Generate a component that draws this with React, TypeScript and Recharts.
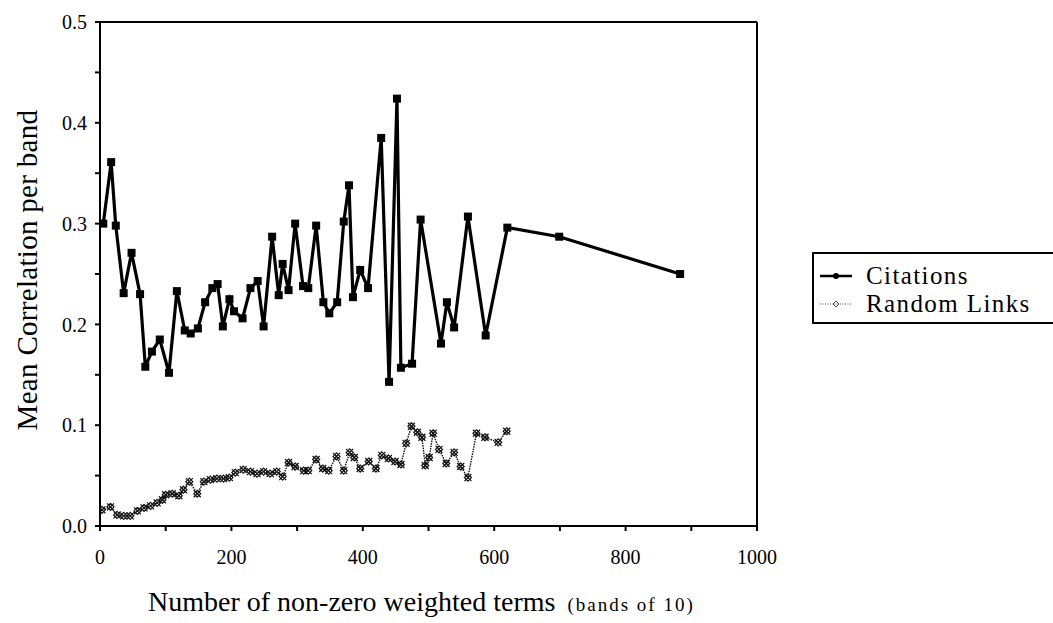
import { LineChart, Line, XAxis, YAxis, ReferenceLine, Legend } from "recharts"

// mean number of non-zero weighted terms in each band, and the band's mean correlation
const citationTerms = [
  5, 17, 24, 36, 48, 61, 69, 79, 91, 105, 117, 129, 138, 149, 160, 171, 179, 187, 197, 204,
  217, 229, 240, 249, 262, 272, 278, 287, 297, 309, 317, 329, 340, 349, 361, 371, 379, 385,
  396, 408, 428, 440, 452, 458, 475, 488, 519, 528, 539, 560, 587, 620, 699, 883,
]
const citationCorr = [
  0.3, 0.361, 0.298, 0.231, 0.271, 0.23, 0.158, 0.173, 0.185, 0.152, 0.233, 0.194, 0.191,
  0.196, 0.222, 0.236, 0.24, 0.198, 0.225, 0.213, 0.206, 0.236, 0.243, 0.198, 0.287, 0.229,
  0.26, 0.234, 0.3, 0.238, 0.236, 0.298, 0.222, 0.211, 0.222, 0.302, 0.338, 0.227, 0.254,
  0.236, 0.385, 0.143, 0.424, 0.157, 0.161, 0.304, 0.181, 0.222, 0.197, 0.307, 0.189, 0.296,
  0.287, 0.25,
]

const randomTerms = [
  3, 16, 26, 36, 46, 57, 67, 77, 87, 95, 100, 110, 120, 127, 136, 148, 158, 168, 178, 188,
  197, 206, 218, 229, 239, 249, 259, 269, 278, 287, 297, 310, 317, 329, 339, 348, 360, 371,
  380, 387, 396, 409, 420, 429, 439, 449, 458, 466, 474, 483, 490, 495, 501, 507, 516, 527,
  539, 549, 560, 573, 586, 606, 619,
]
const randomCorr = [
  0.016, 0.019, 0.011, 0.01, 0.01, 0.015, 0.018, 0.02, 0.023, 0.026, 0.031, 0.032, 0.03,
  0.036, 0.044, 0.032, 0.044, 0.046, 0.047, 0.047, 0.048, 0.053, 0.056, 0.054, 0.052, 0.054,
  0.052, 0.054, 0.049, 0.063, 0.059, 0.055, 0.055, 0.066, 0.057, 0.055, 0.069, 0.055, 0.073,
  0.068, 0.057, 0.064, 0.057, 0.07, 0.067, 0.064, 0.061, 0.082, 0.099, 0.093, 0.088, 0.06,
  0.068, 0.092, 0.076, 0.062, 0.073, 0.059, 0.048, 0.092, 0.088, 0.083, 0.094,
]

const xTicks = [0, 100, 200, 300, 400, 500, 600, 700, 800, 900, 1000]
const yTicks = [0, 0.05, 0.1, 0.15, 0.2, 0.25, 0.3, 0.35, 0.4, 0.45, 0.5]

const citations = citationTerms.map((terms, i) => ({ terms, corr: citationCorr[i] }))
const randomLinks = randomTerms.map((terms, i) => ({ terms, corr: randomCorr[i] }))

const serif = '"Liberation Serif", "DejaVu Serif", serif'

const SquareDot = (props: any) => {
  const { cx, cy } = props
  if (cx == null || cy == null) return null
  return <rect x={cx - 4} y={cy - 4} width={8} height={8} fill="#000" />
}

const CrossDot = (props: any) => {
  const { cx, cy } = props
  if (cx == null || cy == null) return null
  const s = 3.5
  return (
    <g stroke="#111" strokeWidth={1.2} fill="none">
      <line x1={cx - s} y1={cy - s} x2={cx + s} y2={cy + s} />
      <line x1={cx - s} y1={cy + s} x2={cx + s} y2={cy - s} />
      <path d={`M${cx} ${cy - s}L${cx + s} ${cy}L${cx} ${cy + s}L${cx - s} ${cy}Z`} />
    </g>
  )
}

function LegendBox() {
  return (
    <div
      style={{
        border: "2px solid #000",
        width: 260,
        height: 72,
        boxSizing: "border-box",
        padding: "8px 0 0 4px",
        fontFamily: serif,
        fontSize: 25,
        letterSpacing: 1.4,
        lineHeight: "28px",
        color: "#000",
        textAlign: "left",
      }}
    >
      <div style={{ display: "flex", alignItems: "center", height: 28 }}>
        <svg width={48} height={12}>
          <line x1={2} y1={6} x2={34} y2={6} stroke="#000" strokeWidth={2.5} />
          <circle cx={18} cy={6} r={3} fill="#000" />
        </svg>
        <span>Citations</span>
      </div>
      <div style={{ display: "flex", alignItems: "center", height: 28 }}>
        <svg width={48} height={12}>
          <line x1={2} y1={6} x2={34} y2={6} stroke="#444" strokeWidth={1} strokeDasharray="1 1.5" />
          <path d="M18 3L21 6L18 9L15 6Z" fill="none" stroke="#444" strokeWidth={1} />
        </svg>
        <span>Random Links</span>
      </div>
    </div>
  )
}

export default function App() {
  return (
    <div
      style={{
        position: "absolute",
        left: 0,
        top: 0,
        width: 1053,
        height: 623,
        overflow: "hidden",
        background: "#fff",
      }}
    >
      <LineChart width={1053} height={623} margin={{ top: 22, right: 296, bottom: 0, left: 0 }}>
        <XAxis
          dataKey="terms"
          type="number"
          domain={[0, 1000]}
          ticks={xTicks}
          allowDataOverflow
          height={97}
          tickFormatter={(v: number) => (v % 200 === 0 ? String(v) : "")}
          tick={{ fontFamily: serif, fontSize: 20, fill: "#000" }}
          tickSize={5}
          tickMargin={19}
          stroke="#000"
          strokeWidth={2}
        />
        <YAxis
          type="number"
          domain={[0, 0.5]}
          ticks={yTicks}
          allowDataOverflow
          width={100}
          tickFormatter={(v: number) =>
            Math.abs(v * 10 - Math.round(v * 10)) < 1e-6 ? v.toFixed(1) : ""
          }
          tick={{ fontFamily: serif, fontSize: 20, fill: "#000" }}
          tickSize={5}
          tickMargin={8}
          stroke="#000"
          strokeWidth={2}
        />
        <ReferenceLine y={0.5} stroke="#000" strokeWidth={2} />
        <ReferenceLine x={1000} stroke="#000" strokeWidth={2} />
        <Line
          data={randomLinks}
          dataKey="corr"
          name="Random Links"
          stroke="#111"
          strokeWidth={1.4}
          strokeDasharray="1.5 1"
          dot={<CrossDot />}
          activeDot={false}
          isAnimationActive={false}
        />
        <Line
          data={citations}
          dataKey="corr"
          name="Citations"
          stroke="#000"
          strokeWidth={3.2}
          dot={<SquareDot />}
          activeDot={false}
          isAnimationActive={false}
        />
        <Legend
          layout="horizontal"
          align="center"
          verticalAlign="middle"
          content={<LegendBox />}
          wrapperStyle={{ left: 812, top: 252, width: 260, height: 72 }}
        />
      </LineChart>
      <div
        style={{
          position: "absolute",
          left: 27,
          top: 270,
          transform: "translate(-50%, -50%) rotate(-90deg)",
          whiteSpace: "nowrap",
          fontFamily: serif,
          fontSize: 29,
          letterSpacing: 0.3,
          color: "#000",
        }}
      >
        Mean Correlation per band
      </div>
      <div
        style={{
          position: "absolute",
          left: 148,
          top: 586,
          whiteSpace: "nowrap",
          fontFamily: serif,
          fontSize: 28,
          color: "#000",
        }}
      >
        Number of non-zero weighted terms
        <span style={{ fontSize: 19, letterSpacing: 2, marginLeft: 12 }}>(bands of 10)</span>
      </div>
    </div>
  )
}
